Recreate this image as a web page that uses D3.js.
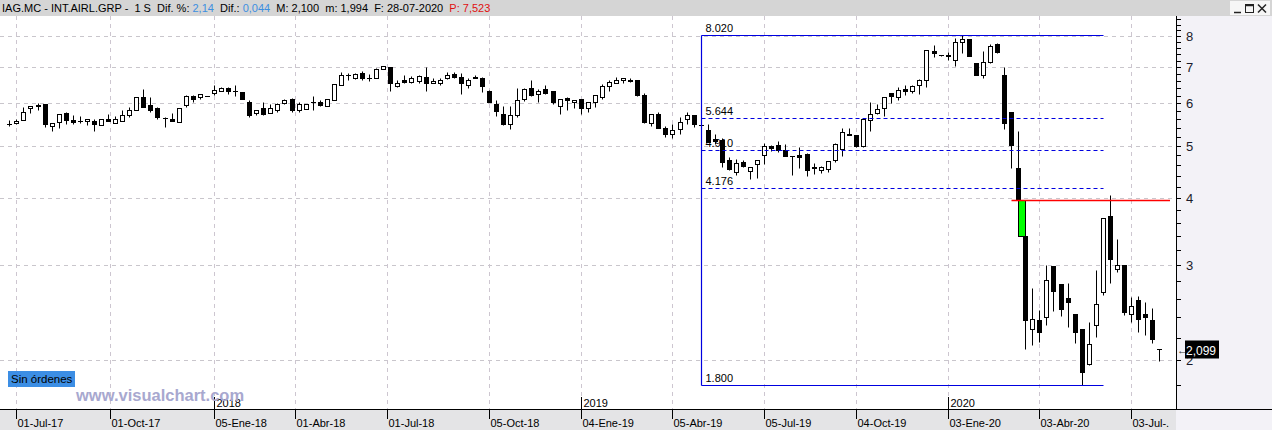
<!DOCTYPE html>
<html><head><meta charset="utf-8">
<script src="https://cdn.jsdelivr.net/npm/d3@7"></script>
<style>
html,body{margin:0;padding:0;background:#fff;overflow:hidden}
svg{display:block;font-family:"Liberation Sans",Arial,sans-serif}
</style></head><body><div id="chart"></div>
<script>
// weekly bars, IAG.MC, Jul-2017 .. Jul-2020
const opens = [5.50,5.51,5.59,5.87,5.95,5.98,5.44,5.53,5.75,5.58,5.56,5.57,5.55,5.47,5.62,5.51,5.57,5.70,5.83,6.15,
  5.96,5.87,5.64,5.60,5.53,5.96,6.18,6.17,6.19,6.27,6.33,6.40,6.33,6.30,6.04,5.75,5.87,5.75,5.84,6.00,
  6.10,5.83,5.86,6.04,6.04,5.93,6.08,6.49,6.76,6.68,6.82,6.68,6.67,6.94,7.00,6.45,6.64,6.58,6.60,6.70,
  6.53,6.55,6.67,6.80,6.70,6.50,6.71,6.67,6.33,5.99,5.74,5.50,5.70,6.12,6.40,6.23,6.37,6.33,5.94,6.14,
  6.02,6.10,5.87,6.02,6.15,6.46,6.53,6.63,6.64,6.64,6.22,5.52,5.72,5.39,5.25,5.37,5.60,5.70,5.47,5.36,
  5.14,5.12,4.70,4.48,4.67,4.49,4.63,4.81,5.00,5.01,4.92,4.79,4.80,4.83,4.56,4.51,4.53,4.70,4.93,5.26,
  5.23,5.00,5.58,5.75,5.87,6.26,6.15,6.38,6.32,6.48,6.63,7.49,7.37,7.37,7.22,7.79,7.90,7.12,6.77,7.15,
  7.73,6.78,5.77,4.55,3.40,2.28,2.37,2.40,2.99,2.77,2.61,2.44,2.28,1.97,2.32,2.68,3.70,2.95,3.00,2.44,
  2.59,2.44,2.37,2.10];
const highs = [5.58,5.60,5.90,5.92,6.00,5.98,5.51,5.74,5.78,5.71,5.68,5.62,5.61,5.61,5.74,5.69,5.84,5.90,6.15,6.38,
  6.15,5.90,5.66,5.75,5.87,6.22,6.21,6.25,6.20,6.49,6.42,6.42,6.49,6.30,6.08,5.84,6.03,5.98,6.00,6.10,
  6.14,6.02,5.98,6.18,6.08,6.10,6.52,6.86,6.82,6.82,6.89,6.79,6.97,7.05,7.02,6.63,6.76,6.75,6.78,7.00,
  6.67,6.68,6.85,6.87,6.82,6.67,6.77,6.72,6.36,6.08,5.93,5.93,6.40,6.40,6.63,6.37,6.50,6.33,6.12,6.16,
  6.08,6.12,6.02,6.21,6.51,6.63,6.71,6.69,6.67,6.64,6.26,5.72,5.77,5.45,5.48,5.65,5.77,5.70,5.50,5.48,
  5.26,5.16,4.76,4.72,4.70,4.57,4.70,5.07,5.02,5.11,5.05,4.79,4.98,4.85,4.64,4.59,4.68,5.07,5.39,5.39,
  5.24,5.60,6.03,5.98,6.15,6.28,6.42,6.49,6.49,6.65,7.55,7.70,7.39,7.48,7.92,8.02,7.90,7.12,7.50,7.72,
  7.78,7.02,5.77,5.32,3.40,2.72,2.48,3.00,2.99,2.77,2.78,2.44,2.28,2.35,2.94,3.67,4.05,3.36,3.00,2.62,
  2.63,2.56,2.50,2.10];
const lows = [5.45,5.48,5.59,5.76,5.83,5.41,5.32,5.39,5.50,5.49,5.52,5.47,5.32,5.47,5.57,5.51,5.57,5.66,5.83,5.90,
  5.78,5.62,5.42,5.57,5.53,5.91,6.04,6.10,6.18,6.21,6.33,6.24,6.18,6.10,5.66,5.70,5.70,5.75,5.78,5.97,
  5.78,5.78,5.86,5.83,5.94,5.93,6.08,6.49,6.62,6.65,6.63,6.60,6.67,6.94,6.31,6.42,6.53,6.53,6.53,6.33,
  6.53,6.50,6.65,6.69,6.25,6.40,6.67,6.30,6.03,5.67,5.46,5.37,5.66,6.06,6.20,6.02,6.25,5.98,5.72,5.83,
  5.87,5.72,5.77,5.90,6.12,6.33,6.53,6.53,6.58,6.18,5.52,5.44,5.39,5.19,5.17,5.25,5.49,5.41,5.42,5.08,
  5.04,4.56,4.51,4.41,4.57,4.33,4.35,4.63,4.90,4.88,4.78,4.41,4.55,4.40,4.44,4.45,4.47,4.67,4.79,5.23,
  4.97,4.97,5.33,5.72,5.69,6.00,6.08,6.22,6.26,6.25,6.44,7.30,7.34,7.22,7.03,7.43,7.35,6.76,6.67,7.12,
  7.45,5.37,4.54,3.96,2.10,2.13,2.16,2.32,2.47,2.41,2.30,2.15,1.80,1.96,2.21,2.64,2.78,2.91,2.42,2.35,
  2.25,2.23,2.15,1.994];
const closes = [5.49,5.57,5.78,5.92,5.94,5.49,5.51,5.72,5.58,5.54,5.55,5.62,5.48,5.61,5.57,5.62,5.70,5.83,6.15,5.90,
  5.84,5.66,5.63,5.57,5.87,6.18,6.10,6.23,6.19,6.35,6.40,6.33,6.31,6.10,5.70,5.84,5.72,5.87,5.97,6.08,
  5.83,5.97,5.98,6.02,5.96,6.10,6.52,6.76,6.77,6.79,6.68,6.69,6.94,7.05,6.54,6.54,6.58,6.69,6.75,6.53,
  6.60,6.63,6.77,6.72,6.53,6.63,6.67,6.45,6.04,5.81,5.48,5.70,6.08,6.37,6.22,6.33,6.27,6.02,6.12,6.08,
  6.08,5.87,6.02,6.21,6.45,6.58,6.64,6.69,6.60,6.22,5.53,5.72,5.39,5.27,5.36,5.54,5.70,5.49,5.46,5.09,
  5.10,4.67,4.53,4.64,4.58,4.57,4.70,5.00,4.96,4.92,4.78,4.78,4.76,4.51,4.55,4.57,4.68,5.05,5.31,5.24,
  5.00,5.60,5.74,5.86,6.15,6.18,6.35,6.32,6.46,6.62,7.55,7.43,7.36,7.35,7.81,7.90,7.35,6.77,7.15,7.67,
  7.48,5.52,5.01,3.96,2.37,2.38,2.25,2.82,2.69,2.49,2.56,2.25,1.90,2.14,2.54,3.67,3.08,3.00,2.46,2.52,
  2.38,2.40,2.19,2.099];

const priceTicks = [2,3,4,5,6,7,8];
const dateTickBars = [1.95, 15.3, 30, 41.5, 54.5, 69, 82, 95, 108, 121, 134, 147, 160];
const dateTickLabels = ['01-Jul-17','01-Oct-17','05-Ene-18','01-Abr-18','01-Jul-18','05-Oct-18','04-Ene-19',
  '05-Abr-19','05-Jul-19','04-Oct-19','03-Ene-20','03-Abr-20','03-Jul-.'];
const yearBars = [30, 82, 134];
const yearLabels = ['2018','2019','2020'];

const fibLevels = [8.020, 5.644, 4.910, 4.176, 1.800];
const fibLabels = ['8.020','5.644','4.910','4.176','1.800'];
const fibFrom = 99, fibTo = 156;
const gapBar = 144;          // gap between close of bar 144 and open of bar 145
const lastPrice = 2.099, lastLabel = '2,099';

const titleParts = [
  ['IAG.MC - INT.AIRL.GRP -  1 S  Dif. %: ', '#000'],
  ['2,14', '#3d8fe0'],
  ['  Dif.: ', '#000'],
  ['0,044', '#3d8fe0'],
  ['  M: 2,100  m: 1,994  F: 28-07-2020  ', '#000'],
  ['P: 7,523', '#e01010']
];

const W = 1272, H = 430;
const plotR = 1176, plotT = 16, plotB = 409;

const svg = d3.select('#chart').append('svg').attr('width', W).attr('height', H);

const x = d3.scaleLinear().domain([1, closes.length]).range([9.3, 1159.3]);
const y = d3.scaleLog().domain([2, 8]).range([360, 36]);
const px = v => Math.round(x(v)) + 0.5;
const py = v => Math.round(y(v)) + 0.5;

// backgrounds
svg.append('rect').attr('width', W).attr('height', H).attr('fill', '#fff');
svg.append('rect').attr('x', 0).attr('y', 0).attr('width', W).attr('height', plotT).attr('fill', '#d5d5d5');
svg.append('rect').attr('x', plotR).attr('y', plotT).attr('width', W - plotR).attr('height', H - plotT).attr('fill', '#f3f2f7');
svg.append('rect').attr('x', 0).attr('y', plotB).attr('width', plotR).attr('height', H - plotB).attr('fill', '#e4e4e6');

// title
const title = svg.append('text').attr('x', 2).attr('y', 12).attr('font-size', 11).style('white-space', 'pre');
titleParts.forEach(p => title.append('tspan').attr('fill', p[1]).text(p[0]));

// window buttons
const btn = svg.append('g').attr('transform', 'translate(1230,1)');
btn.append('rect').attr('width', 40).attr('height', 14).attr('fill', '#f6f6f6');
btn.append('line').attr('x1', 4).attr('x2', 11).attr('y1', 11.5).attr('y2', 11.5).attr('stroke', '#222').attr('stroke-width', 1.5);
btn.append('rect').attr('x', 15.5).attr('y', 3.5).attr('width', 8).attr('height', 8).attr('fill', 'none').attr('stroke', '#222');
btn.append('line').attr('x1', 15.5).attr('x2', 23.5).attr('y1', 4.5).attr('y2', 4.5).attr('stroke', '#222').attr('stroke-width', 1.5);
btn.append('path').attr('d', 'M28,3.5L36,11.5M36,3.5L28,11.5').attr('stroke', '#222').attr('stroke-width', 1.5);

svg.append('clipPath').attr('id', 'plotClip').append('rect')
  .attr('x', 0).attr('y', plotT).attr('width', plotR).attr('height', plotB - plotT);
const plot = svg.append('g').attr('clip-path', 'url(#plotClip)');

// grid
plot.append('g').selectAll('line').data(priceTicks).join('line')
  .attr('x1', 0).attr('x2', plotR).attr('y1', d => py(d)).attr('y2', d => py(d))
  .attr('stroke', '#c9c6cc').attr('stroke-dasharray', '4,4');
plot.append('g').selectAll('line').data(dateTickBars).join('line')
  .attr('x1', d => px(d)).attr('x2', d => px(d)).attr('y1', plotT).attr('y2', plotB)
  .attr('stroke', '#cdc6d0').attr('stroke-dasharray', '4,4');

// candles
const bars = closes.map((c, i) => ({n: i + 1, o: opens[i], h: highs[i], l: lows[i], c: c}));
const cg = plot.append('g');
bars.forEach(d => {
  const cx = px(d.n);
  cg.append('line').attr('x1', cx).attr('x2', cx).attr('y1', py(d.h)).attr('y2', py(d.l)).attr('stroke', '#000');
  const top = py(Math.max(d.o, d.c)), bot = py(Math.min(d.o, d.c));
  if (bot - top < 1) {
    cg.append('line').attr('x1', cx - 2.5).attr('x2', cx + 2.5).attr('y1', top).attr('y2', top).attr('stroke', '#000');
  } else {
    cg.append('rect').attr('x', cx - 2).attr('y', top).attr('width', 4).attr('height', bot - top)
      .attr('fill', d.c < d.o ? '#000' : '#fff').attr('stroke', '#000');
  }
});

// gap box + level
const gClose = closes[gapBar - 1], gOpen = opens[gapBar];
plot.append('rect').attr('x', px(gapBar)).attr('y', py(gClose))
  .attr('width', px(gapBar + 1) - px(gapBar)).attr('height', py(gOpen) - py(gClose))
  .attr('fill', '#00ff00').attr('stroke', '#000');
plot.append('line').attr('x1', px(gapBar - 1)).attr('x2', 1170).attr('y1', py(gClose)).attr('y2', py(gClose))
  .attr('stroke', '#ff0000').attr('stroke-width', 1.3);

// fibonacci box
const fib = plot.append('g');
fib.append('line').attr('x1', px(fibFrom)).attr('x2', px(fibFrom))
  .attr('y1', py(fibLevels[0])).attr('y2', py(fibLevels[fibLevels.length - 1]))
  .attr('stroke', '#0000e0').attr('stroke-width', 1.2);
fib.selectAll('line.lvl').data(fibLevels).join('line').attr('class', 'lvl')
  .attr('x1', px(fibFrom)).attr('x2', px(fibTo)).attr('y1', d => py(d)).attr('y2', d => py(d))
  .attr('stroke', '#0000e0').attr('stroke-width', 1.2)
  .attr('stroke-dasharray', (d, i) => (i === 0 || i === fibLevels.length - 1) ? null : '4,3');
fib.selectAll('text').data(fibLabels).join('text')
  .attr('x', px(fibFrom) + 4).attr('y', (d, i) => py(fibLevels[i]) - 4)
  .attr('font-size', 11).attr('fill', '#000').text(d => d);

// right axis
const ax = svg.append('g').attr('transform', `translate(${plotR},0)`);
ax.append('line').attr('x1', 0.5).attr('x2', 0.5).attr('y1', plotT).attr('y2', plotB).attr('stroke', '#000');
const minor = d3.range(1.6, 8.8, 0.2).filter(v => y(v) > plotT && y(v) < plotB);
ax.selectAll('line.mn').data(minor).join('line').attr('class', 'mn')
  .attr('x1', 0).attr('x2', 5).attr('y1', d => py(d)).attr('y2', d => py(d)).attr('stroke', '#000');
ax.selectAll('text.pl').data(priceTicks).join('text').attr('class', 'pl')
  .attr('x', 10).attr('y', d => y(d) + 5).attr('font-size', 13).attr('fill', '#1a1a2a').text(d => d);

// last price
const ly = py(lastPrice);
ax.append('text').attr('x', 1).attr('y', ly + 4).attr('font-size', 11).attr('fill', '#333').text('\u2190');
ax.append('rect').attr('x', 9).attr('y', ly - 9).attr('width', 34).attr('height', 18).attr('fill', '#000');
ax.append('text').attr('x', 10).attr('y', ly + 5).attr('font-size', 12).attr('fill', '#fff').text(lastLabel);

// bottom axis
svg.append('line').attr('x1', 0).attr('x2', W).attr('y1', plotB + 0.5).attr('y2', plotB + 0.5).attr('stroke', '#000');
svg.append('clipPath').attr('id', 'xClip').append('rect')
  .attr('x', 0).attr('y', plotT).attr('width', plotR).attr('height', H - plotT);
const xa = svg.append('g').attr('clip-path', 'url(#xClip)');
dateTickBars.forEach((b, i) => {
  xa.append('line').attr('x1', px(b)).attr('x2', px(b)).attr('y1', plotB).attr('y2', plotB + 10).attr('stroke', '#000');
  xa.append('text').attr('x', px(b) + 1).attr('y', 427).attr('font-size', 11).attr('fill', '#000').text(dateTickLabels[i]);
});
yearBars.forEach((b, i) => {
  xa.append('line').attr('x1', px(b)).attr('x2', px(b)).attr('y1', plotB - 12).attr('y2', plotB).attr('stroke', '#000');
  xa.append('text').attr('x', px(b) + 2).attr('y', plotB - 2).attr('font-size', 11).attr('fill', '#000').text(yearLabels[i]);
});

// labels
svg.append('rect').attr('x', 8).attr('y', 371).attr('width', 67).attr('height', 16).attr('fill', '#3c8ee4');
svg.append('text').attr('x', 11).attr('y', 383).attr('font-size', 11.5).attr('fill', '#000').text('Sin \u00f3rdenes');
svg.append('text').attr('x', 76).attr('y', 401).attr('font-size', 16.5).attr('font-weight', 'bold')
  .attr('fill', '#a8a8cf').text('www.visualchart.com');
</script></body></html>
